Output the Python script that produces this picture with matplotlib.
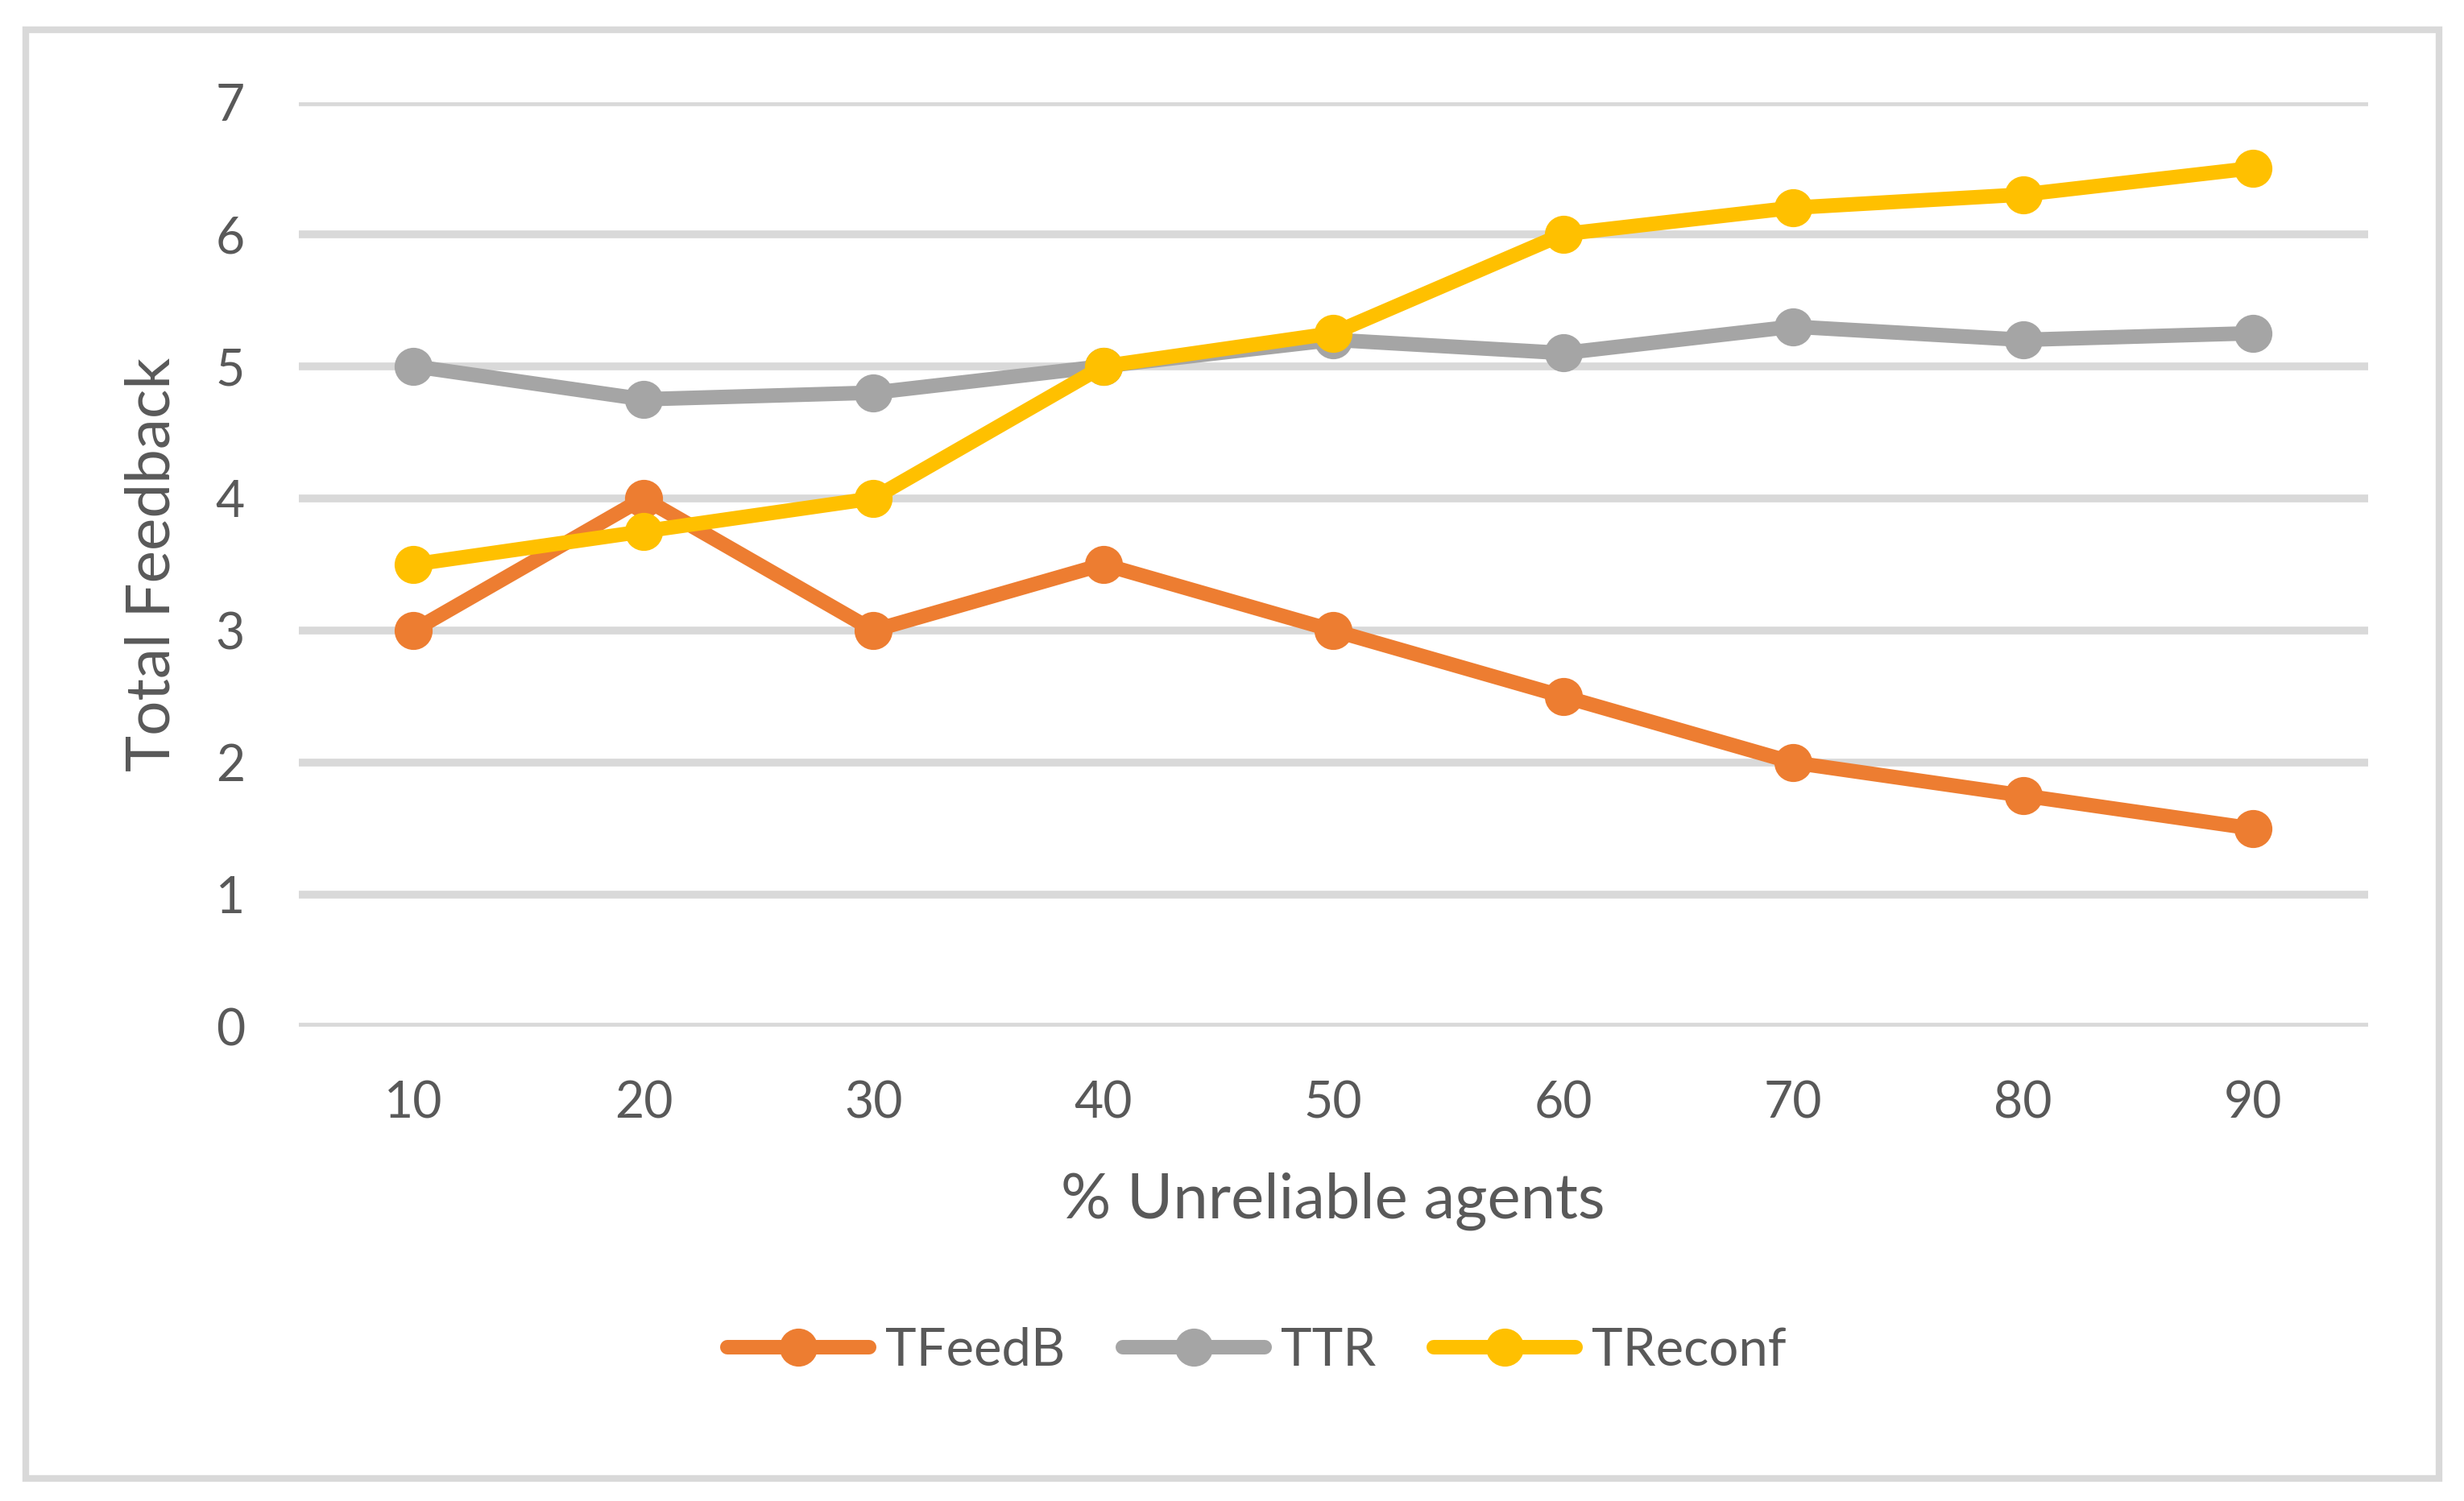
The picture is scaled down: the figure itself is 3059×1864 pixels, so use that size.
import matplotlib
matplotlib.use("Agg")
import matplotlib.pyplot as plt
from matplotlib.patches import Rectangle

plt.rcParams['font.family'] = ['Lato', 'DejaVu Sans']

# data
pct_unreliable = [10, 20, 30, 40, 50, 60, 70, 80, 90]
tfeedb = [3, 4, 3, 3.5, 3, 2.5, 2, 1.75, 1.5]
ttr = [5, 4.75, 4.8, 5, 5.2, 5.1, 5.3, 5.2, 5.25]
treconf = [3.5, 3.75, 4, 5, 5.25, 6, 6.2, 6.3, 6.5]
series_names = ['TFeedB', 'TTR', 'TReconf']
colors = ['#ED7D31', '#A5A5A5', '#FFC000']

txt = '#595959'
grid = '#D9D9D9'

fig = plt.figure(figsize=(15.295, 9.32), dpi=200)
fig.patches.append(Rectangle((0.0105, 0.015), 0.9795, 0.965, transform=fig.transFigure,
                             fill=False, edgecolor=grid, linewidth=3))

ax = fig.add_axes([0.1212, 0.316, 0.8398, 0.616])
pos = list(range(len(pct_unreliable)))
for vals, name, c in zip([tfeedb, ttr, treconf], series_names, colors):
    ax.plot(pos, vals, color=c, lw=6.5, marker='o', ms=16, label=name,
            solid_capstyle='round')

ax.set_xlim(-0.5, len(pos) - 0.5)
ax.set_ylim(0, 7)
ax.set_yticks(range(0, 8))
ax.set_xticks(pos)
ax.set_xticklabels([str(p) for p in pct_unreliable])
ax.yaxis.grid(True, color=grid, lw=3.5)
ax.set_axisbelow(True)
for s in ax.spines.values():
    s.set_visible(False)
ax.tick_params(axis='both', length=0, labelsize=22.5, colors=txt)
ax.tick_params(axis='y', pad=24)
ax.tick_params(axis='x', pad=24)

ax.set_xlabel('% Unreliable agents', fontsize=28, color=txt, labelpad=20)
ax.set_ylabel('Total Feedback', fontsize=27.5, color=txt, labelpad=16)

fig.legend(loc='center', bbox_to_anchor=(0.51, 0.1), ncol=3, frameon=False,
           fontsize=23.5, labelcolor=txt, handlelength=2.7, columnspacing=1.1,
           handletextpad=0.3)

fig.savefig('out.png', dpi=200)
